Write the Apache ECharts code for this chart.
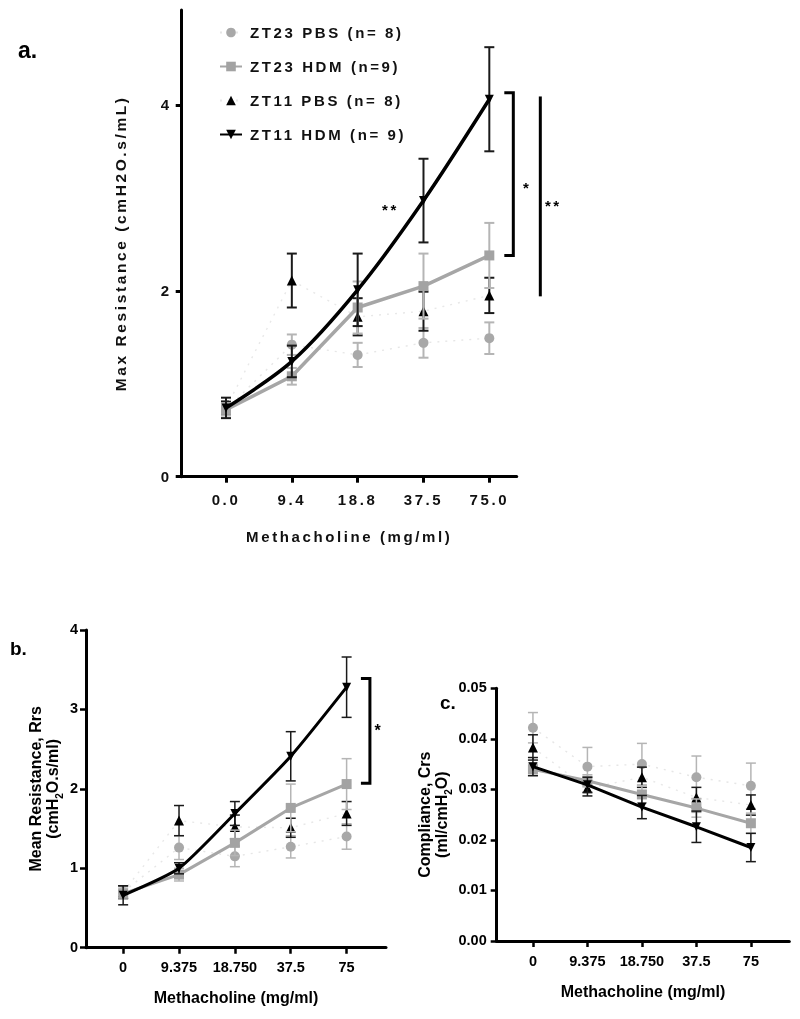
<!DOCTYPE html>
<html><head><meta charset="utf-8">
<script src="https://cdn.jsdelivr.net/npm/echarts@6/dist/echarts.min.js"></script>
<style>
html,body{margin:0;padding:0;background:#fff;}
#wrap{position:relative;width:800px;height:1019px;}
#chartBC,#chartA{position:absolute;left:0;top:0;width:800px;height:1019px;}
#chartA text{letter-spacing:2.6px !important;}
</style></head><body>
<div id="wrap"><div id="chartBC"></div><div id="chartA"></div></div>
<script>
// ---------- data ----------
const IDX = [0, 1, 2, 3, 4];
const CAT_A = ['0.0', '9.4', '18.8', '37.5', '75.0'];
const CAT_BC = ['0', '9.375', '18.750', '37.5', '75'];
const NAMES = ['ZT23 PBS (n= 8)', 'ZT23 HDM (n=9)', 'ZT11 PBS (n= 8)', 'ZT11 HDM (n= 9)'];
const Y_TICKS_A = [0, 2, 4];

// a. Max Resistance
const maxR_ZT23PBS = [0.72, 1.42, 1.31, 1.44, 1.49];
const maxR_ZT23PBS_sem = [0.06, 0.11, 0.13, 0.16, 0.17];
const maxR_ZT23HDM = [0.72, 1.08, 1.82, 2.05, 2.38];
const maxR_ZT23HDM_sem = [0.06, 0.09, 0.28, 0.35, 0.35];
const maxR_ZT11PBS = [0.74, 2.11, 1.72, 1.78, 1.95];
const maxR_ZT11PBS_sem = [0.07, 0.29, 0.2, 0.21, 0.19];
const maxR_ZT11HDM = [0.74, 1.24, 2.01, 2.97, 4.06];
const maxR_ZT11HDM_sem = [0.11, 0.17, 0.39, 0.45, 0.56];

// b. Mean Resistance
const meanR_ZT23PBS = [0.70, 1.26, 1.15, 1.27, 1.40];
const meanR_ZT23PBS_sem = [0.08, 0.15, 0.13, 0.14, 0.16];
const meanR_ZT23HDM = [0.68, 0.92, 1.32, 1.76, 2.06];
const meanR_ZT23HDM_sem = [0.07, 0.08, 0.16, 0.30, 0.32];
const meanR_ZT11PBS = [0.70, 1.60, 1.52, 1.51, 1.69];
const meanR_ZT11PBS_sem = [0.08, 0.19, 0.15, 0.12, 0.15];
const meanR_ZT11HDM = [0.66, 1.00, 1.69, 2.41, 3.28];
const meanR_ZT11HDM_sem = [0.12, 0.07, 0.15, 0.31, 0.38];

// c. Compliance
const comp_ZT23PBS = [0.0422, 0.0345, 0.0350, 0.0324, 0.0307];
const comp_ZT23PBS_sem = [0.0030, 0.0038, 0.0041, 0.0042, 0.0045];
const comp_ZT23HDM = [0.0340, 0.0317, 0.0290, 0.0263, 0.0233];
const comp_ZT23HDM_sem = [0.0012, 0.0012, 0.0017, 0.0018, 0.0020];
const comp_ZT11PBS = [0.0383, 0.0302, 0.0324, 0.0284, 0.0269];
const comp_ZT11PBS_sem = [0.0025, 0.0015, 0.0020, 0.0020, 0.0020];
const comp_ZT11HDM = [0.0345, 0.0309, 0.0265, 0.0226, 0.0185];
const comp_ZT11HDM_sem = [0.0018, 0.0015, 0.0023, 0.0031, 0.0028];

// significance annotation levels (data units)
const SIG_A = { b1Top: 4.13, b1Bot: 2.38, star1Y: 3.11, l2Top: 4.09, l2Bot: 1.94, star2Y: 2.92, midStarY: 2.87 };
const SIG_B = { bTop: 3.39, bBot: 2.07, starY: 2.72 };

// ---------- styles ----------
const FONT = '"Liberation Sans", Arial, Helvetica, sans-serif';
const STYLES = [
  { symbol: 'circle', size: 10, color: '#a8a8a8', line: { color: '#e6e6e6', width: 1.4, type: [2, 6] }, err: '#b5b5b5', z: 2 },
  { symbol: 'rect', size: 10, color: '#a3a3a3', line: { color: '#a6a6a6', width: 3.5, type: 'solid' }, err: '#b5b5b5', z: 4 },
  { symbol: 'triangle', size: 10, color: '#000', line: { color: '#e8e8e8', width: 1.4, type: [2, 6] }, err: '#1a1a1a', z: 3 },
  { symbol: 'triangle', rotate: 180, size: 9, color: '#000', line: { color: '#000', width: 3.5, type: 'solid' }, err: '#1a1a1a', z: 5, smooth: 0.3 }
];

function groupSeries(ai, name, means, sems, st, capW, ebW, lineW) {
  const pts = IDX.map(i => [i, means[i]]);
  const err = IDX.map(i => [i, means[i] - sems[i], means[i] + sems[i]]);
  return [
    {
      type: 'custom', name: name + ' SEM', xAxisIndex: ai, yAxisIndex: ai, data: err,
      encode: { x: 0, y: [1, 2] }, z: st.z, silent: true, animation: false,
      renderItem: (p, api) => {
        const x = api.value(0);
        const a = api.coord([x, api.value(2)]);
        const b = api.coord([x, api.value(1)]);
        const s = { stroke: st.err, lineWidth: ebW };
        return {
          type: 'group', children: [
            { type: 'line', shape: { x1: a[0], y1: a[1], x2: b[0], y2: b[1] }, style: s },
            { type: 'line', shape: { x1: a[0] - capW, y1: a[1], x2: a[0] + capW, y2: a[1] }, style: s },
            { type: 'line', shape: { x1: b[0] - capW, y1: b[1], x2: b[0] + capW, y2: b[1] }, style: s }
          ]
        };
      }
    },
    {
      type: 'line', name: name, xAxisIndex: ai, yAxisIndex: ai, data: pts,
      symbol: st.symbol, symbolSize: st.size, symbolRotate: st.rotate || 0,
      smooth: st.smooth || false, showAllSymbol: true,
      lineStyle: { color: st.line.color, width: lineW ? (st.line.type === 'solid' ? lineW : st.line.width) : st.line.width, type: st.line.type },
      itemStyle: { color: st.color }, z: st.z + 0.5, animation: false, silent: true
    }
  ];
}

// ---------- chart A (panel a) ----------
const tA = { color: '#111', fontSize: 15, fontWeight: 'bold', fontFamily: FONT };
const chartA = echarts.init(document.getElementById('chartA'), null, { renderer: 'svg' });
const seriesA = [].concat(
  groupSeries(0, NAMES[0], maxR_ZT23PBS, maxR_ZT23PBS_sem, STYLES[0], 5, 2),
  groupSeries(0, NAMES[2], maxR_ZT11PBS, maxR_ZT11PBS_sem, STYLES[2], 5, 2),
  groupSeries(0, NAMES[1], maxR_ZT23HDM, maxR_ZT23HDM_sem, STYLES[1], 5, 2),
  groupSeries(0, NAMES[3], maxR_ZT11HDM, maxR_ZT11HDM_sem, STYLES[3], 5, 2),
  [{
    type: 'custom', name: 'sigA', data: [[0, 0]], silent: true, animation: false, z: 10,
    renderItem: (p, api) => {
      const t1 = api.coord([4, SIG_A.b1Top]), b1 = api.coord([4, SIG_A.b1Bot]);
      const x1 = t1[0] + 24;
      const t2 = api.coord([4, SIG_A.l2Top]), b2 = api.coord([4, SIG_A.l2Bot]);
      const x2 = t2[0] + 51;
      const s1 = api.coord([4, SIG_A.star1Y]), s2 = api.coord([4, SIG_A.star2Y]);
      const m = api.coord([3, SIG_A.midStarY]);
      const ls = { stroke: '#000', lineWidth: 3, fill: null };
      const ts = { fill: '#000', fontSize: 15, fontWeight: 'bold', fontFamily: FONT, align: 'center', verticalAlign: 'middle' };
      return {
        type: 'group', children: [
          { type: 'polyline', shape: { points: [[x1 - 9, t1[1]], [x1, t1[1]], [x1, b1[1]], [x1 - 9, b1[1]]] }, style: ls },
          { type: 'line', shape: { x1: x2, y1: t2[1], x2: x2, y2: b2[1] }, style: ls },
          { type: 'text', x: s1[0] + 38, y: s1[1], style: Object.assign({ text: '*' }, ts) },
          { type: 'text', x: s2[0] + 64, y: s2[1], style: Object.assign({ text: '**' }, ts) },
          { type: 'text', x: m[0] - 33, y: m[1], style: Object.assign({ text: '**' }, ts) }
        ]
      };
    }
  }]
);
chartA.setOption({
  animation: false,
  grid: { left: 181.7, top: 10, width: 335, height: 466.7 },
  legend: {
    orient: 'vertical', left: 214, top: 20, itemWidth: 22, itemHeight: 12, itemGap: 19,
    data: NAMES, selectedMode: false,
    textStyle: Object.assign({ padding: [0, 0, 0, 3] }, tA)
  },
  xAxis: {
    type: 'value', min: -0.673, max: 4.416,
    axisLine: { show: true, onZero: false, lineStyle: { color: '#000', width: 3 } },
    axisTick: { show: true, length: 6, customValues: IDX, lineStyle: { color: '#000', width: 3 } },
    axisLabel: { customValues: IDX, formatter: v => CAT_A[Math.round(v)], margin: 15, ...tA },
    splitLine: { show: false },
    name: 'Methacholine (mg/ml)', nameLocation: 'middle', nameGap: 52, nameTextStyle: tA
  },
  yAxis: {
    type: 'value', min: 0, max: 5.02,
    axisLine: { show: true, onZero: false, lineStyle: { color: '#000', width: 3 } },
    axisTick: { show: true, length: 6, customValues: Y_TICKS_A, lineStyle: { color: '#000', width: 3 } },
    axisLabel: { customValues: Y_TICKS_A, margin: 10, ...tA },
    splitLine: { show: false },
    name: 'Max Resistance (cmH2O.s/mL)', nameLocation: 'middle', nameGap: 53, nameRotate: 90,
    nameTextStyle: Object.assign({}, tA, { fontSize: 15.5 })
  },
  series: seriesA
});

// ---------- chart BC (panels b, c) ----------
const tB = { color: '#000', fontSize: 14.5, fontWeight: 'bold', fontFamily: FONT };
const nameB = {
  color: '#000', fontSize: 16, fontWeight: 'bold', fontFamily: FONT, lineHeight: 17,
  rich: { sub: { fontSize: 10, fontWeight: 'bold', fontFamily: FONT, color: '#000', verticalAlign: 'bottom', lineHeight: 17, padding: [0, 0, -3, 0] } }
};
function xAxisBC(gi) {
  return {
    gridIndex: gi, type: 'value', min: -0.665, max: 4.705,
    axisLine: { show: true, onZero: false, lineStyle: { color: '#000', width: 3 } },
    axisTick: { show: true, length: 6, customValues: IDX, lineStyle: { color: '#000', width: 2.5 } },
    axisLabel: { customValues: IDX, formatter: v => CAT_BC[Math.round(v)], margin: 13, ...tB },
    splitLine: { show: false },
    name: 'Methacholine (mg/ml)', nameLocation: 'middle', nameGap: gi === 0 ? 43 : 44,
    nameTextStyle: { color: '#000', fontSize: 16, fontWeight: 'bold', fontFamily: FONT }
  };
}
const chartBC = echarts.init(document.getElementById('chartBC'));
const seriesBC = [].concat(
  groupSeries(0, NAMES[0], meanR_ZT23PBS, meanR_ZT23PBS_sem, STYLES[0], 5, 1.5, 3),
  groupSeries(0, NAMES[2], meanR_ZT11PBS, meanR_ZT11PBS_sem, STYLES[2], 5, 1.5, 3),
  groupSeries(0, NAMES[1], meanR_ZT23HDM, meanR_ZT23HDM_sem, STYLES[1], 5, 1.5, 3),
  groupSeries(0, NAMES[3], meanR_ZT11HDM, meanR_ZT11HDM_sem, Object.assign({}, STYLES[3], { smooth: 0.2 }), 5, 1.5, 3),
  groupSeries(1, NAMES[0], comp_ZT23PBS, comp_ZT23PBS_sem, STYLES[0], 5, 1.5, 3),
  groupSeries(1, NAMES[2], comp_ZT11PBS, comp_ZT11PBS_sem, STYLES[2], 5, 1.5, 3),
  groupSeries(1, NAMES[1], comp_ZT23HDM, comp_ZT23HDM_sem, STYLES[1], 5, 1.5, 3),
  groupSeries(1, NAMES[3], comp_ZT11HDM, comp_ZT11HDM_sem, Object.assign({}, STYLES[3], { smooth: false }), 5, 1.5, 3),
  [{
    type: 'custom', name: 'sigB', xAxisIndex: 0, yAxisIndex: 0, data: [[0, 0]], silent: true, animation: false, z: 10,
    renderItem: (p, api) => {
      const t = api.coord([4, SIG_B.bTop]), b = api.coord([4, SIG_B.bBot]);
      const x = t[0] + 23.3;
      const s = api.coord([4, SIG_B.starY]);
      return {
        type: 'group', children: [
          { type: 'polyline', shape: { points: [[x - 9, t[1]], [x, t[1]], [x, b[1]], [x - 9, b[1]]] }, style: { stroke: '#000', lineWidth: 3, fill: null } },
          { type: 'text', x: s[0] + 31, y: s[1], style: { text: '*', fill: '#000', fontSize: 16, fontWeight: 'bold', fontFamily: FONT, align: 'center', verticalAlign: 'middle' } }
        ]
      };
    }
  }]
);
chartBC.setOption({
  animation: false,
  grid: [
    { left: 86, top: 630, width: 300, height: 317.7 },
    { left: 496.7, top: 688.3, width: 292.6, height: 252.7 }
  ],
  xAxis: [xAxisBC(0), xAxisBC(1)],
  yAxis: [
    {
      gridIndex: 0, type: 'value', min: 0, max: 4, interval: 1,
      axisLine: { show: true, onZero: false, lineStyle: { color: '#000', width: 3 } },
      axisTick: { show: true, length: 6, lineStyle: { color: '#000', width: 2.5 } },
      axisLabel: { margin: 8, ...tB },
      splitLine: { show: false },
      name: 'Mean Resistance, Rrs\n(cmH{sub|2}O.s/ml)', nameLocation: 'middle', nameGap: 24, nameRotate: 90,
      nameTextStyle: nameB
    },
    {
      gridIndex: 1, type: 'value', min: 0, max: 0.05, interval: 0.01,
      axisLine: { show: true, onZero: false, lineStyle: { color: '#000', width: 3 } },
      axisTick: { show: true, length: 6, lineStyle: { color: '#000', width: 2.5 } },
      axisLabel: { margin: 10, formatter: v => v.toFixed(2), ...tB },
      splitLine: { show: false },
      name: 'Compliance, Crs\n(ml/cmH{sub|2}O)', nameLocation: 'middle', nameGap: 43, nameRotate: 90,
      nameTextStyle: nameB
    }
  ],
  graphic: [
    { type: 'text', left: 18, top: 40, style: { text: 'a.', fill: '#000', fontSize: 23, fontWeight: 'bold', fontFamily: FONT } },
    { type: 'text', left: 10, top: 640, style: { text: 'b.', fill: '#000', fontSize: 19, fontWeight: 'bold', fontFamily: FONT } },
    { type: 'text', left: 440, top: 694, style: { text: 'c.', fill: '#000', fontSize: 19, fontWeight: 'bold', fontFamily: FONT } }
  ],
  series: seriesBC
});
</script>
</body></html>
